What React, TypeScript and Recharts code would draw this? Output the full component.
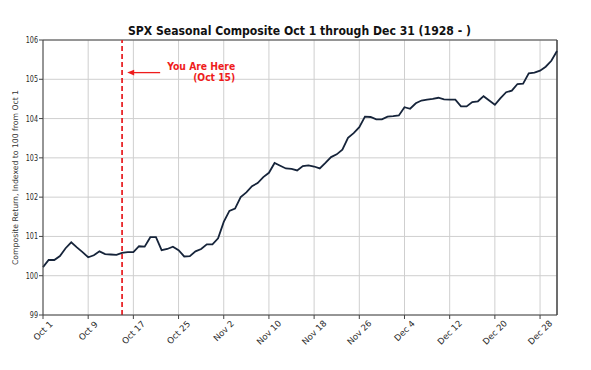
import { CartesianGrid, Line, LineChart, ReferenceDot, ReferenceLine, XAxis, YAxis } from 'recharts';

// calendar day index from Oct 1 (0) to Dec 31 (91)
const compositeValues = [
  100.22, 100.4, 100.4, 100.5, 100.7, 100.85, 100.72, 100.6, 100.47, 100.52,
  100.62, 100.55, 100.54, 100.53, 100.58, 100.6, 100.6, 100.75, 100.74, 100.98,
  100.98, 100.65, 100.68, 100.74, 100.65, 100.49, 100.5, 100.62, 100.68, 100.8,
  100.8, 100.95, 101.37, 101.65, 101.71, 102.0, 102.12, 102.28, 102.36, 102.51,
  102.62, 102.87, 102.8, 102.73, 102.72, 102.68, 102.79, 102.81, 102.78, 102.73,
  102.87, 103.02, 103.09, 103.21, 103.51, 103.63, 103.78, 104.05, 104.04, 103.98,
  103.98, 104.05, 104.06, 104.08, 104.29, 104.25, 104.39, 104.46, 104.48, 104.5,
  104.53, 104.49, 104.48, 104.48, 104.31, 104.31, 104.42, 104.44, 104.57, 104.46,
  104.35, 104.52, 104.67, 104.71, 104.88, 104.89, 105.15, 105.17, 105.22, 105.32,
  105.47, 105.72,
];

const tickDays = [0, 8, 16, 24, 32, 40, 48, 56, 64, 72, 80, 88];
const tickLabels = ['Oct 1', 'Oct 9', 'Oct 17', 'Oct 25', 'Nov 2', 'Nov 10', 'Nov 18', 'Nov 26', 'Dec 4', 'Dec 12', 'Dec 20', 'Dec 28'];
const yTicks = [99, 100, 101, 102, 103, 104, 105, 106];

const todayIndex = 14; // Oct 15

const data = compositeValues.map((value, day) => ({ day, value }));

const FONT = '"DejaVu Sans", sans-serif';

function XTick(props: any) {
  const { x, y, payload } = props;
  const label = tickLabels[tickDays.indexOf(payload.value)] ?? '';
  const len = label.length * 4.7;
  const cy = y + ((len + 7) * 0.707) / 2 - 1;
  return (
    <text
      x={x}
      y={cy}
      transform={`rotate(-45 ${x} ${cy})`}
      textAnchor="middle"
      dominantBaseline="central"
      fontSize={8.6}
      fontFamily={FONT}
      fill="#2a2a2a"
    >
      {label}
    </text>
  );
}

function YTick(props: any) {
  const { x, y, payload } = props;
  const s = String(payload.value);
  return (
    <text
      x={x + 1}
      y={y}
      textAnchor="end"
      dominantBaseline="central"
      fontSize={9}
      fontFamily={FONT}
      fill="#2a2a2a"
      textLength={s.length * 4.1}
      lengthAdjust="spacingAndGlyphs"
    >
      {s}
    </text>
  );
}

function HereNote(props: any) {
  const { cx, cy } = props;
  const red = '#ee1c1c';
  return (
    <g>
      <line x1={cx + 5} y1={cy} x2={cx + 33} y2={cy} stroke={red} strokeWidth={1.3} />
      <path d={`M${cx},${cy} L${cx + 7},${cy - 2.8} L${cx + 7},${cy + 2.8} Z`} fill={red} />
      <text x={cx + 108} y={cy - 3} textAnchor="end" fontSize={10} fontWeight="bold" fontFamily={FONT} fill={red} textLength={68} lengthAdjust="spacingAndGlyphs">
        You Are Here
      </text>
      <text x={cx + 108} y={cy + 8} textAnchor="end" fontSize={10} fontWeight="bold" fontFamily={FONT} fill={red} textLength={42} lengthAdjust="spacingAndGlyphs">
        (Oct 15)
      </text>
    </g>
  );
}

export default function App() {
  return (
    <div style={{ position: 'absolute', left: 0, top: 0, width: 591, height: 370, background: '#fff' }}>
      <LineChart width={591} height={370} data={data} margin={{ top: 40, right: 34, left: 0, bottom: 15 }}>
        <CartesianGrid stroke="#cfcfcf" strokeWidth={1} />
        <XAxis
          dataKey="day"
          type="number"
          domain={[0, 91]}
          ticks={tickDays}
          interval={0}
          height={40}
          tick={<XTick />}
          tickLine={{ stroke: '#444' }}
          axisLine={{ stroke: '#444' }}
          tickSize={4}
        />
        <YAxis
          type="number"
          domain={[99, 106]}
          ticks={yTicks}
          interval={0}
          width={43}
          tick={<YTick />}
          tickLine={{ stroke: '#444' }}
          axisLine={{ stroke: '#444' }}
          tickSize={4}
        />
        <ReferenceLine y={106} stroke="#444" strokeWidth={1} />
        <ReferenceLine x={91} stroke="#444" strokeWidth={1.5} />
        <ReferenceLine x={todayIndex} stroke="#e8262a" strokeWidth={1.8} strokeDasharray="5 3" />
        <Line
          type="linear"
          dataKey="value"
          stroke="#16243a"
          strokeWidth={1.8}
          dot={false}
          isAnimationActive={false}
        />
        <ReferenceDot x={14.9} y={105.17} r={0} shape={<HereNote />} />
      </LineChart>
      <svg width={591} height={370} style={{ position: 'absolute', left: 0, top: 0, pointerEvents: 'none' }}>
        <text x={299.5} y={35} textAnchor="middle" fontSize={11.5} fontWeight="bold" fontFamily={FONT} fill="#111" textLength={343} lengthAdjust="spacingAndGlyphs">
          SPX Seasonal Composite Oct 1 through Dec 31 (1928 - )
        </text>
        <text
          x={15}
          y={177.5}
          transform="rotate(-90 15 177.5)"
          textAnchor="middle"
          dominantBaseline="central"
          fontSize={7.8}
          fontFamily={FONT}
          fill="#333"
          textLength={175}
          lengthAdjust="spacingAndGlyphs"
        >
          Composite Return, Indexed to 100 from Oct 1
        </text>
      </svg>
    </div>
  );
}
